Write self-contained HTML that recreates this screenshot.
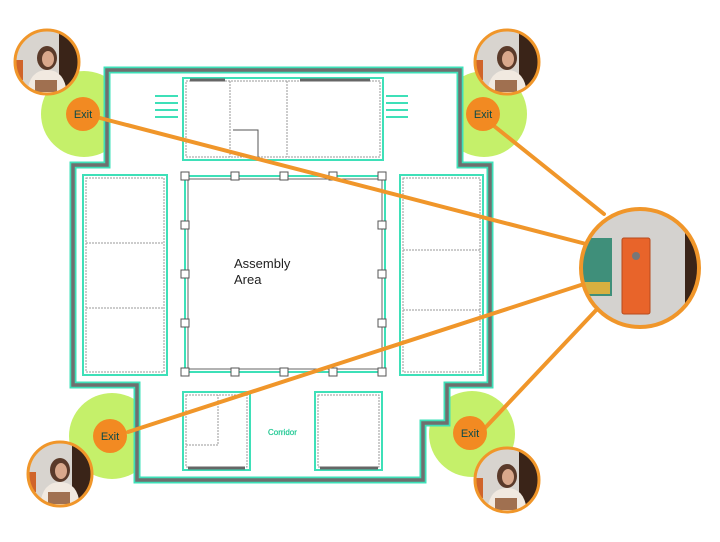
<!DOCTYPE html>
<html><head><style>
html,body{margin:0;padding:0;background:#fff;width:720px;height:542px;overflow:hidden}
svg{display:block}
text{font-family:"Liberation Sans","DejaVu Sans",sans-serif}
</style></head><body>
<svg width="720" height="542" viewBox="0 0 720 542" xmlns="http://www.w3.org/2000/svg">
<defs>
<radialGradient id="ph" cx="0.5" cy="0.5" r="0.5">
<stop offset="0" stop-color="#e8e2da"/><stop offset="1" stop-color="#c9c2ba"/>
</radialGradient>
<clipPath id="cb"><circle cx="640" cy="268" r="58"/></clipPath>
<clipPath id="cp"><circle r="31"/></clipPath>
<g id="photo">
<g clip-path="url(#cp)">
<rect x="-32" y="-32" width="64" height="64" fill="#d8d4cf"/>
<rect x="-32" y="-2" width="8" height="20" fill="#d0642a"/>
<rect x="12" y="-32" width="22" height="64" fill="#3a2418"/>
<ellipse cx="0" cy="-4" rx="10" ry="12" fill="#5a3a2a"/>
<ellipse cx="1" cy="-3" rx="6" ry="8" fill="#d9a88c"/>
<path d="M-20,32 Q-18,8 0,8 Q18,8 20,32 Z" fill="#f1e9e0"/>
<rect x="-12" y="18" width="22" height="12" fill="#a07050"/>
</g>
<circle r="32" fill="none" stroke="#f0962a" stroke-width="3"/>
</g>
</defs>
<!-- green halos -->
<circle cx="84" cy="114" r="43" fill="#c5f06a"/>
<circle cx="484" cy="114" r="43" fill="#c5f06a"/>
<circle cx="112" cy="436" r="43" fill="#c5f06a"/>
<circle cx="472" cy="434" r="43" fill="#c5f06a"/>
<!-- outer wall -->
<path d="M107,70 H460 V165 H490 V385 H447 V423 H423 V480 H137 V385 H73 V165 H107 Z" fill="#fff" stroke="#3ee0b8" stroke-width="7"/>
<path d="M107,70 H460 V165 H490 V385 H447 V423 H423 V480 H137 V385 H73 V165 H107 Z" fill="none" stroke="#6f6f6f" stroke-width="3.5"/>
<g fill="#fff" stroke="#3ee0b8" stroke-width="2">
<rect x="183" y="78" width="200" height="82"/>
<rect x="83" y="175" width="84" height="200"/>
<rect x="400" y="175" width="83" height="200"/>
<rect x="183" y="392" width="67" height="78"/>
<rect x="315" y="392" width="67" height="78"/>
</g>
<g fill="none" stroke="#999" stroke-width="1" stroke-dasharray="2,1">
<rect x="186" y="81" width="194" height="76"/>
<line x1="230" y1="81" x2="230" y2="157"/><line x1="287" y1="81" x2="287" y2="157"/>
<rect x="86" y="178" width="78" height="194"/>
<line x1="86" y1="243" x2="164" y2="243"/><line x1="86" y1="308" x2="164" y2="308"/>
<rect x="403" y="178" width="77" height="194"/>
<line x1="403" y1="250" x2="480" y2="250"/><line x1="403" y1="310" x2="480" y2="310"/>
<rect x="186" y="395" width="61" height="72"/>
<rect x="318" y="395" width="61" height="72"/>
<path d="M186,445 H218 V395"/>
</g>
<g stroke="#666" stroke-width="3">
<line x1="190" y1="80" x2="225" y2="80"/><line x1="300" y1="80" x2="370" y2="80"/>
<line x1="188" y1="468" x2="245" y2="468"/><line x1="320" y1="468" x2="378" y2="468"/>
</g>
<path d="M233,130 H258 V158" fill="none" stroke="#555" stroke-width="1"/>
<g stroke="#3ee0b8" stroke-width="2" fill="none">
<path d="M155,96 H178 M155,103 H178 M155,110 H178 M155,117 H178"/>
<path d="M386,96 H408 M386,103 H408 M386,110 H408 M386,117 H408"/>
</g>
<rect x="185" y="176" width="200" height="196" fill="#fff" stroke="#3ee0b8" stroke-width="2"/>
<rect x="188" y="179" width="194" height="190" fill="none" stroke="#666" stroke-width="1"/>
<g fill="#fff" stroke="#555" stroke-width="1">
<rect x="181" y="172" width="8" height="8"/><rect x="231" y="172" width="8" height="8"/><rect x="280" y="172" width="8" height="8"/><rect x="329" y="172" width="8" height="8"/><rect x="378" y="172" width="8" height="8"/>
<rect x="181" y="368" width="8" height="8"/><rect x="231" y="368" width="8" height="8"/><rect x="280" y="368" width="8" height="8"/><rect x="329" y="368" width="8" height="8"/><rect x="378" y="368" width="8" height="8"/>
<rect x="181" y="221" width="8" height="8"/><rect x="181" y="270" width="8" height="8"/><rect x="181" y="319" width="8" height="8"/>
<rect x="378" y="221" width="8" height="8"/><rect x="378" y="270" width="8" height="8"/><rect x="378" y="319" width="8" height="8"/>
</g>
<text x="234" y="268" font-size="13" fill="#222">Assembly</text>
<text x="234" y="284" font-size="13" fill="#222">Area</text>
<text x="268" y="435" font-size="8" fill="#1a6" stroke="#3ee0b8" stroke-width="0.3">Corridor</text>
<g stroke="#f0962a" stroke-width="4" stroke-linecap="round">
<line x1="100" y1="118" x2="590" y2="245"/>
<line x1="494" y1="126" x2="604" y2="214"/>
<line x1="128" y1="432" x2="584" y2="284"/>
<line x1="485" y1="428" x2="600" y2="306"/>
</g>
<g fill="#f28a22">
<circle cx="83" cy="114" r="17"/><circle cx="483" cy="114" r="17"/>
<circle cx="110" cy="436" r="17"/><circle cx="470" cy="433" r="17"/>
</g>
<g font-size="11" fill="#0a4a4a" text-anchor="middle">
<text x="83" y="118">Exit</text><text x="483" y="118">Exit</text>
<text x="110" y="440">Exit</text><text x="470" y="437">Exit</text>
</g>
<use href="#photo" transform="translate(47,62)"/>
<use href="#photo" transform="translate(507,62)"/>
<use href="#photo" transform="translate(60,474)"/>
<use href="#photo" transform="translate(507,480)"/>
<g clip-path="url(#cb)">
<rect x="580" y="208" width="120" height="120" fill="#d4d2cf"/>
<rect x="685" y="208" width="20" height="120" fill="#3a2418"/>
<rect x="582" y="238" width="30" height="58" fill="#3f8f7a"/>
<rect x="582" y="282" width="28" height="12" fill="#d8b040"/>
<rect x="622" y="238" width="28" height="76" rx="2" fill="#e8642a" stroke="#b84a1c"/>
<circle cx="636" cy="256" r="4" fill="#777"/>
</g>
<circle cx="640" cy="268" r="59" fill="none" stroke="#f0962a" stroke-width="4"/>
</svg>
</body></html>
